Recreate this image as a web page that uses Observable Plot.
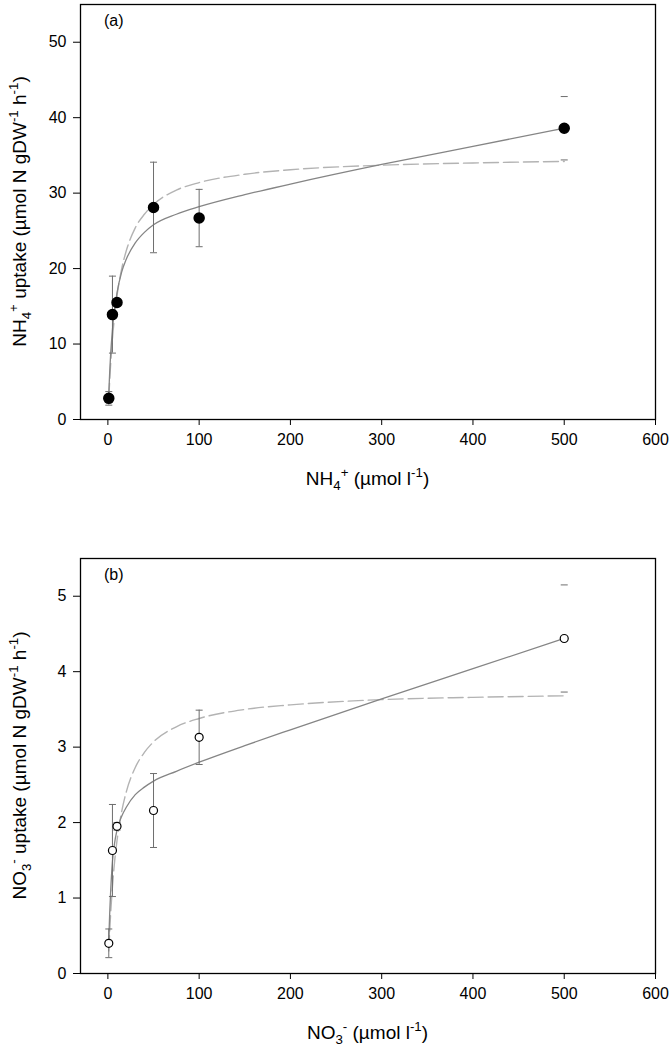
<!DOCTYPE html>
<html><head><meta charset="utf-8">
<script src="https://cdn.jsdelivr.net/npm/d3@7"></script>
<script src="https://cdn.jsdelivr.net/npm/@observablehq/plot@0.6"></script>
<style>
html,body{margin:0;padding:0;background:#fff;}
#chart svg{display:block;}
</style></head><body><div id="chart"></div>
<script>
// ---- data ----
const conc = [1, 5, 10, 50, 100, 500];
const nh4Uptake = [2.8, 13.9, 15.5, 28.1, 26.7, 38.6];
const nh4Err = [0.9, 5.1, 0.3, 6.0, 3.8, 4.2];
const no3Uptake = [0.40, 1.63, 1.95, 2.16, 3.13, 4.44];
const no3Err = [0.19, 0.61, 0.05, 0.49, 0.36, 0.71];

const curveX = [1, 2, 3, 5, 7, 10, 15, 20, 30, 40, 50, 75, 100, 150, 200, 300, 400, 500];
const nh4Solid = [3.5, 6.3, 8.6, 11.9, 14.3, 16.8, 19.5, 21.2, 23.4, 24.8, 25.8, 27.2, 28.2, 29.8, 31.2, 33.8, 36.2, 38.6];
const nh4Dashed = [2.8, 5.2, 7.3, 10.7, 13.3, 16.4, 19.9, 22.3, 25.4, 27.2, 28.5, 30.4, 31.4, 32.5, 33.1, 33.7, 34.0, 34.2];
const no3Solid = [0.45, 0.80, 1.08, 1.48, 1.70, 1.90, 2.08, 2.20, 2.37, 2.47, 2.55, 2.68, 2.80, 3.02, 3.23, 3.64, 4.04, 4.44];
const no3Dashed = [0.30, 0.56, 0.79, 1.15, 1.44, 1.76, 2.14, 2.40, 2.73, 2.93, 3.07, 3.27, 3.38, 3.50, 3.56, 3.63, 3.66, 3.68];

const xTicks = [0, 100, 200, 300, 400, 500, 600];
const nh4Ticks = [0, 10, 20, 30, 40, 50];
const no3Ticks = [0, 1, 2, 3, 4, 5];

const FONT = "'Liberation Sans', Arial, Helvetica, sans-serif";

const capSymbol = {
  draw(context, size) {
    const w = Math.sqrt(size / Math.PI);
    context.moveTo(-w, 0);
    context.lineTo(w, 0);
  }
};

function panel({values, errs, solid, dashed, yDomain, yTicks, filled, height, marginBottom}) {
  const pts = conc.map((c, i) => ({x: c, y: values[i], lo: values[i] - errs[i], hi: values[i] + errs[i]}));
  const solidData = curveX.map((c, i) => ({x: c, y: solid[i]}));
  const dashedData = curveX.map((c, i) => ({x: c, y: dashed[i]}));
  // in the reference the bar stem at the highest concentration is not drawn, only its caps
  const stems = pts.filter(d => d.x < 500);
  return Plot.plot({
    width: 672,
    height,
    marginLeft: 80,
    marginRight: 17,
    marginTop: 4,
    marginBottom,
    style: {fontFamily: FONT, fontSize: "16px", color: "black", background: "white"},
    x: {domain: [-30, 600]},
    y: {domain: yDomain},
    marks: [
      Plot.line(dashedData, {x: "x", y: "y", stroke: "#b3b3b3", strokeWidth: 1.4, strokeDasharray: "15,5", curve: "monotone-x"}),
      Plot.line(solidData, {x: "x", y: "y", stroke: "#858585", strokeWidth: 1.3, curve: "monotone-x"}),
      Plot.ruleX(stems, {x: "x", y1: "lo", y2: "hi", stroke: "#6e6e6e", strokeWidth: 1}),
      Plot.dot(pts, {x: "x", y: "hi", symbol: capSymbol, r: 3.5, stroke: "#6e6e6e", strokeWidth: 1}),
      Plot.dot(pts, {x: "x", y: "lo", symbol: capSymbol, r: 3.5, stroke: "#6e6e6e", strokeWidth: 1}),
      filled
        ? Plot.dot(pts, {x: "x", y: "y", r: 5, fill: "black", stroke: "black"})
        : Plot.dot(pts, {x: "x", y: "y", r: 4, fill: "white", stroke: "black", strokeWidth: 1.2}),
      Plot.frame({stroke: "black", strokeWidth: 1.3}),
      Plot.axisX({ticks: xTicks, tickSize: 6, tickPadding: 8, label: null, stroke: "black", fontSize: 16, tickFormat: d3.format("d")}),
      Plot.axisY({ticks: yTicks, tickSize: 7, tickPadding: 7, label: null, stroke: "black", fontSize: 16, tickFormat: d3.format("d")})
    ]
  });
}

function richText(svg, {x, y, rotate = 0, size, parts, anchor = "middle"}) {
  const t = d3.select(svg).append("text")
    .attr("transform", `translate(${x},${y}) rotate(${rotate})`)
    .attr("text-anchor", anchor)
    .attr("font-family", FONT)
    .attr("font-size", size)
    .attr("fill", "black");
  let off = 0;
  for (const [txt, kind] of parts) {
    const target = kind === "sup" ? -0.42 * size : kind === "sub" ? 0.28 * size : 0;
    const s = t.append("tspan").text(txt).attr("dy", target - off);
    if (kind) s.attr("font-size", size * 0.7);
    off = target;
  }
}

const chart = document.getElementById("chart");

const svgA = panel({values: nh4Uptake, errs: nh4Err, solid: nh4Solid, dashed: nh4Dashed,
  yDomain: [0, 55], yTicks: nh4Ticks, filled: true, height: 554, marginBottom: 135});
const svgB = panel({values: no3Uptake, errs: no3Err, solid: no3Solid, dashed: no3Dashed,
  yDomain: [0, 5.5], yTicks: no3Ticks, filled: false, height: 496, marginBottom: 77});

richText(svgA, {x: 104, y: 26, size: 16, anchor: "start", parts: [["(a)", ""]]});
richText(svgA, {x: 367.5, y: 485, size: 19, parts: [["NH", ""], ["4", "sub"], ["+", "sup"], [" (µmol l", ""], ["-1", "sup"], [")", ""]]});
richText(svgA, {x: 26, y: 211.5, rotate: -90, size: 19, parts: [["NH", ""], ["4", "sub"], ["+", "sup"], [" uptake (µmol N gDW", ""], ["-1", "sup"], [" h", ""], ["-1", "sup"], [")", ""]]});

richText(svgB, {x: 104, y: 26, size: 16, anchor: "start", parts: [["(b)", ""]]});
richText(svgB, {x: 367.5, y: 485, size: 19, parts: [["NO", ""], ["3", "sub"], ["-", "sup"], [" (µmol l", ""], ["-1", "sup"], [")", ""]]});
richText(svgB, {x: 26, y: 211.5, rotate: -90, size: 19, parts: [["NO", ""], ["3", "sub"], ["-", "sup"], [" uptake (µmol N gDW", ""], ["-1", "sup"], [" h", ""], ["-1", "sup"], [")", ""]]});

chart.append(svgA, svgB);
</script>
</body></html>
